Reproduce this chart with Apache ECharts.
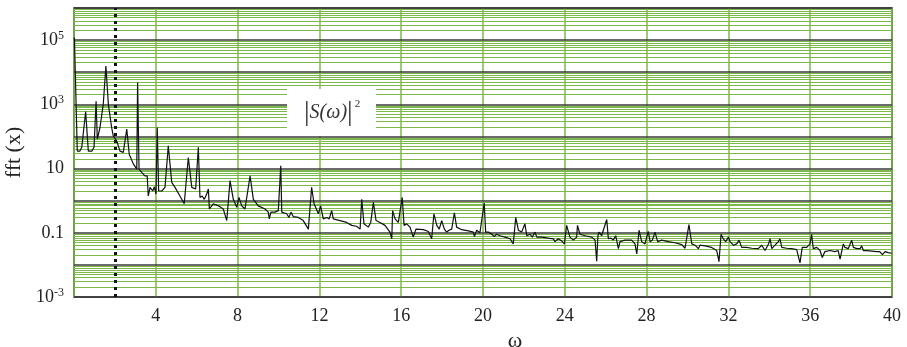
<!DOCTYPE html>
<html>
<head>
<meta charset="utf-8">
<script src="https://cdn.jsdelivr.net/npm/echarts@6/dist/echarts.min.js"></script>
<style>
  html, body { margin: 0; padding: 0; background: #fff; }
  #chart { width: 907px; height: 347px; }
</style>
</head>
<body>
<div id="chart"></div>
<script>
// spectrum |S(w)|^2
var omega = [
  0.02, 0.16, 0.29, 0.38, 0.57, 0.70, 0.87, 0.98, 1.08, 1.14,
  1.27, 1.43, 1.56, 1.68, 1.84, 1.92, 2.09, 2.25, 2.41, 2.58,
  2.70, 2.90, 3.07, 3.11, 3.18, 3.31, 3.47, 3.58, 3.63, 3.72,
  3.85, 3.93, 4.01, 4.07, 4.14, 4.29, 4.45, 4.61, 4.78, 4.94,
  5.18, 5.39, 5.59, 5.76, 5.95, 6.08, 6.16, 6.27, 6.37, 6.49,
  6.57, 6.62, 6.81, 7.06, 7.30, 7.47, 7.63, 7.79, 7.96, 8.07,
  8.20, 8.36, 8.61, 8.77, 9.01, 9.34, 9.50, 9.55, 9.63, 9.83,
  9.99, 10.11, 10.16, 10.40, 10.51, 10.61, 10.72, 10.97, 11.21, 11.30,
  11.46, 11.62, 11.74, 11.95, 12.06, 12.19, 12.36, 12.48, 12.60, 12.68,
  13.01, 13.33, 13.58, 13.82, 13.99, 14.07, 14.18, 14.39, 14.51, 14.64,
  14.77, 14.96, 15.21, 15.45, 15.54, 15.58, 15.70, 15.86, 15.94, 16.05,
  16.14, 16.27, 16.43, 16.59, 16.72, 17.08, 17.33, 17.49, 17.60, 17.74,
  17.86, 17.98, 18.11, 18.22, 18.34, 18.47, 18.60, 18.71, 18.96, 19.28,
  19.53, 19.58, 19.69, 19.85, 20.06, 20.13, 20.26, 20.43, 20.55, 20.67,
  20.83, 21.08, 21.32, 21.48, 21.60, 21.73, 21.89, 22.05, 22.14, 22.30,
  22.41, 22.54, 22.63, 22.87, 23.19, 23.44, 23.52, 23.68, 23.85, 23.98,
  24.09, 24.25, 24.42, 24.58, 24.62, 24.74, 24.99, 25.32, 25.48, 25.56,
  25.62, 25.67, 25.80, 26.05, 26.13, 26.26, 26.37, 26.49, 26.62, 26.70,
  26.94, 27.27, 27.43, 27.52, 27.63, 27.76, 27.92, 28.08, 28.17, 28.28,
  28.41, 28.54, 28.74, 29.06, 29.39, 29.72, 29.88, 30.07, 30.21, 30.37,
  30.53, 30.61, 30.86, 31.18, 31.43, 31.54, 31.64, 31.75, 31.87, 32.00,
  32.08, 32.24, 32.41, 32.52, 32.65, 32.89, 33.14, 33.46, 33.63, 33.79,
  33.96, 34.04, 34.12, 34.28, 34.44, 34.52, 34.61, 34.85, 35.09, 35.34,
  35.42, 35.50, 35.61, 35.83, 35.99, 36.07, 36.15, 36.32, 36.48, 36.59,
  36.72, 36.97, 37.21, 37.37, 37.46, 37.62, 37.70, 37.86, 38.03, 38.11,
  38.28, 38.44, 38.52, 38.60, 38.76, 39.01, 39.25, 39.40, 39.53, 39.66,
  39.82, 39.98
];
var fft = [
  1.2e5, 35, 35, 46, 600, 35, 35, 46, 1250, 83,
  190, 1000, 15500, 1000, 190, 105, 72, 35, 32, 170,
  28, 14, 9.6, 4800, 9.6, 7.6, 5.9, 5.9, 1.4, 2.6,
  2.0, 2.7, 1.6, 190, 2.0, 2.0, 2.6, 51, 3.7, 2.6,
  1.4, 0.8, 22, 2.6, 2.3, 46, 1.26, 1.4, 1.1, 1.6,
  2.3, 0.55, 0.8, 0.69, 0.55, 0.24, 4.2, 1.1, 0.62, 1.26,
  0.69, 0.55, 5.9, 1.1, 0.69, 0.55, 0.44, 0.27, 0.44, 0.44,
  0.49, 12.3, 0.44, 0.39, 0.30, 0.44, 0.32, 0.30, 0.24, 0.24,
  0.13, 2.6, 0.8, 0.39, 0.69, 0.27, 0.30, 0.27, 0.49, 0.27,
  0.24, 0.21, 0.17, 0.16, 0.13, 1.1, 0.19, 0.15, 0.21, 0.89,
  0.24, 0.21, 0.17, 0.105, 0.065, 0.49, 0.27, 0.21, 0.19, 1.26,
  0.17, 0.19, 0.15, 0.073, 0.13, 0.125, 0.11, 0.065, 0.39, 0.17,
  0.13, 0.24, 0.13, 0.105, 0.12, 0.13, 0.42, 0.15, 0.125, 0.115,
  0.105, 0.076, 0.12, 0.10, 0.85, 0.105, 0.105, 0.09, 0.076, 0.09,
  0.081, 0.073, 0.065, 0.045, 0.30, 0.12, 0.105, 0.19, 0.081, 0.09,
  0.073, 0.105, 0.073, 0.073, 0.068, 0.065, 0.053, 0.065, 0.055, 0.045,
  0.17, 0.073, 0.059, 0.073, 0.17, 0.09, 0.081, 0.073, 0.059, 0.013,
  0.081, 0.105, 0.081, 0.26, 0.065, 0.068, 0.059, 0.081, 0.032, 0.053,
  0.059, 0.059, 0.045, 0.022, 0.12, 0.053, 0.045, 0.11, 0.053, 0.059,
  0.105, 0.053, 0.059, 0.053, 0.049, 0.043, 0.033, 0.18, 0.045, 0.041,
  0.032, 0.041, 0.039, 0.035, 0.028, 0.0126, 0.09, 0.065, 0.053, 0.073,
  0.053, 0.041, 0.045, 0.059, 0.035, 0.035, 0.033, 0.032, 0.041, 0.028,
  0.045, 0.065, 0.032, 0.041, 0.053, 0.065, 0.035, 0.033, 0.032, 0.030,
  0.026, 0.0115, 0.035, 0.035, 0.045, 0.09, 0.032, 0.035, 0.028, 0.017,
  0.026, 0.028, 0.026, 0.028, 0.015, 0.045, 0.035, 0.032, 0.059, 0.035,
  0.032, 0.032, 0.039, 0.028, 0.028, 0.027, 0.026, 0.026, 0.021, 0.026,
  0.024, 0.023
];

// y tick labels: only every other decade is labelled
var yLabelExps = [5, 3, 1, -1, -3];
var yLabelText = ['10{sup|5}', '10{sup|3}', '10', '0.1', '10{sup|-3}'];
var cutoff = 2; // dotted line

var green = '#7db84a';
var dark = '#3a3a3a';
var serif = '"Liberation Serif", "DejaVu Serif", serif';

// minor grid positions (2..9 x 10^n), given as exponents for a hidden linear axis
var minorExps = [];
for (var e = -3; e < 6; e++) {
  for (var k = 2; k <= 9; k++) {
    minorExps.push(e + Math.log(k) / Math.LN10);
  }
}

var chart = echarts.init(document.getElementById('chart'), null, { renderer: 'canvas' });

chart.setOption({
  backgroundColor: '#fff',
  animation: false,
  grid: {
    left: 74, right: 15, top: 8, bottom: 50,
    outerBoundsMode: 'none',
    containLabel: false,
    show: true, borderColor: '#222', borderWidth: 1.5
  },
  xAxis: {
    type: 'value',
    min: 0, max: 40, interval: 4,
    name: 'ω',
    nameLocation: 'middle',
    nameGap: 30,
    nameTextStyle: { fontFamily: serif, fontSize: 22, color: '#222', padding: [0, 0, 0, 64] },
    axisLine: { show: false },
    axisTick: { show: false },
    axisLabel: {
      fontFamily: serif, fontSize: 18, color: '#222', margin: 10,
      formatter: function (v) { return v === 0 ? '' : String(v); }
    },
    splitLine: { show: true, lineStyle: { color: green, width: 1.5 } }
  },
  yAxis: [
    {
      type: 'log',
      logBase: 10,
      min: 1e-3, max: 1e6,
      interval: 1,
      z: 2,
      name: 'fft (x)',
      nameLocation: 'middle',
      nameGap: 46,
      nameTextStyle: { fontFamily: serif, fontSize: 22, color: '#222' },
      axisLine: { show: false },
      axisTick: { show: false },
      axisLabel: {
        fontFamily: serif, fontSize: 18, color: '#222', margin: 10,
        formatter: function (v) {
          var ex = Math.round(Math.log(v) / Math.LN10);
          var i = yLabelExps.indexOf(ex);
          return i < 0 ? '' : yLabelText[i];
        },
        rich: {
          sup: { fontFamily: serif, fontSize: 12, color: '#222', verticalAlign: 'top', padding: [0, 0, 8, 0] }
        }
      },
      splitLine: { show: true, lineStyle: { color: dark, width: 1.5 } }
    },
    {
      type: 'value',
      min: -3, max: 6,
      position: 'left',
      z: 1,
      axisLine: { show: false },
      axisTick: { show: false, customValues: minorExps },
      axisLabel: { show: false, customValues: minorExps },
      splitLine: { show: true, lineStyle: { color: green, width: 1 } }
    }
  ],
  graphic: [
    {
      type: 'rect',
      z: 100,
      shape: { x: 287, y: 89, width: 89, height: 47 },
      style: { fill: '#fff' }
    },
    {
      type: 'text',
      z: 101,
      left: 304,
      top: 99,
      style: {
        text: '{b||}{t|S(ω)}{b||}{s|2}',
        rich: {
          b: { fontFamily: serif, fontSize: 28, fill: '#333' },
          t: { fontFamily: serif, fontStyle: 'italic', fontSize: 20, fill: '#333' },
          s: { fontFamily: serif, fontSize: 11, fill: '#333', verticalAlign: 'top', padding: [0, 0, 16, 2] }
        }
      }
    }
  ],
  series: [
    {
      type: 'line',
      z: 3,
      yAxisIndex: 0,
      data: omega.map(function (w, i) { return [w, fft[i]]; }),
      showSymbol: false,
      lineStyle: { color: '#111', width: 1.2 },
      markLine: {
        z: 4,
        silent: true,
        symbol: 'none',
        label: { show: false },
        lineStyle: { color: '#111', type: [3, 4], width: 3 },
        data: [{ xAxis: cutoff }]
      }
    }
  ]
});
</script>
</body>
</html>
